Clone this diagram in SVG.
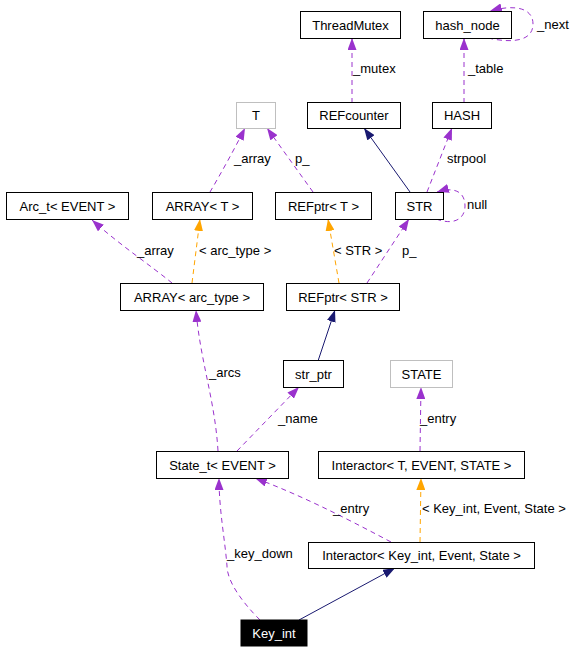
<svg xmlns="http://www.w3.org/2000/svg" width="575" height="651" viewBox="0 0 575 651">
<style>
text{font-family:"Liberation Sans",Arial,sans-serif;font-size:13px;fill:#000}
.n rect{fill:#fff;stroke:#000;stroke-width:1}
.g rect{fill:#fff;stroke:#bfbfbf;stroke-width:1}
.n text,.g text{text-anchor:middle}
.k rect{fill:#000;stroke:#000}
.k text{fill:#fff;text-anchor:middle}
.e{fill:none;stroke-width:1}
.p{stroke:#9a32cd;stroke-dasharray:5,4;marker-end:url(#ap)}
.o{stroke:#ffa500;stroke-dasharray:5,4;marker-end:url(#ao)}
.b{stroke:#191970;marker-end:url(#ab)}
</style>
<defs>
<marker id="ap" viewBox="0 0 12 9" refX="12" refY="4.5" markerWidth="12" markerHeight="9" markerUnits="userSpaceOnUse" orient="auto"><path d="M0,0L12,4.5L0,9z" fill="#9a32cd"/></marker>
<marker id="ao" viewBox="0 0 12 9" refX="12" refY="4.5" markerWidth="12" markerHeight="9" markerUnits="userSpaceOnUse" orient="auto"><path d="M0,0L12,4.5L0,9z" fill="#ffa500"/></marker>
<marker id="ab" viewBox="0 0 12 9" refX="12" refY="4.5" markerWidth="12" markerHeight="9" markerUnits="userSpaceOnUse" orient="auto"><path d="M0,0L12,4.5L0,9z" fill="#191970"/></marker>
</defs>
<rect width="575" height="651" fill="#fff"/>
<g id="edges">
<path class="e p" d="M352,103L352,38"/>
<text x="353" y="73">_mutex</text>
<path class="e p" d="M464,103L464,38"/>
<text x="468" y="73">_table</text>
<path class="e p" d="M488,38C515,44 533,40 533,24C533,8 515,4 490,11"/>
<text x="537" y="29">_next</text>
<path class="e b" d="M410,192L364,128"/>
<path class="e p" d="M427,192L452,128"/>
<text x="447" y="163">strpool</text>
<path class="e p" d="M436,219C455,226 465,218 465,206C465,193 456,186 437,192"/>
<text x="467" y="209">null</text>
<path class="e p" d="M210,192C220,175 234,150 245,128"/>
<text x="234" y="163">_array</text>
<path class="e p" d="M313,192L267,128"/>
<text x="295" y="163">p_</text>
<path class="e p" d="M172,283C150,265 120,245 92,220"/>
<text x="137" y="255">_array</text>
<path class="e o" d="M192,283L200,219"/>
<text x="199" y="255">&lt; arc_type &gt;</text>
<path class="e o" d="M339,283L328,219"/>
<text x="334" y="255">&lt; STR &gt;</text>
<path class="e p" d="M367,283L409,219"/>
<text x="402" y="255">p_</text>
<path class="e b" d="M318,361L335,310"/>
<path class="e p" d="M218,451C215,400 200,360 196,310"/>
<text x="209" y="377">_arcs</text>
<path class="e p" d="M237,451L299,387"/>
<text x="278" y="423">_name</text>
<path class="e p" d="M420,451L421,387"/>
<text x="420" y="423">_entry</text>
<path class="e o" d="M420,542L421,478"/>
<text x="422" y="513">&lt; Key_int, Event, State &gt;</text>
<path class="e p" d="M391,542C340,515 300,495 255,478"/>
<text x="333" y="513">_entry</text>
<path class="e p" d="M260,620C240,600 227,580 227,566C225,540 219,510 219,478"/>
<text x="227" y="558">_key_down</text>
<path class="e b" d="M299,620L395,568"/>
</g>
<g id="ThreadMutex" class="n"><rect x="300.5" y="11.5" width="100" height="27"/><text x="350.5" y="29.5">ThreadMutex</text></g>
<g id="hash_node" class="n"><rect x="423.5" y="11.5" width="88" height="27"/><text x="467.5" y="29.5">hash_node</text></g>
<g id="T" class="g"><rect x="236.5" y="102.5" width="39" height="26"/><text x="256" y="120">T</text></g>
<g id="REFcounter" class="n"><rect x="307.5" y="102.5" width="93" height="26"/><text x="354" y="120">REFcounter</text></g>
<g id="HASH" class="n"><rect x="432.5" y="102.5" width="59" height="26"/><text x="462" y="120">HASH</text></g>
<g id="Arc_t" class="n"><rect x="6.5" y="192.5" width="122" height="27"/><text x="67.5" y="210.5">Arc_t&lt; EVENT &gt;</text></g>
<g id="ARRAY_T" class="n"><rect x="152.5" y="192.5" width="100" height="27"/><text x="202.5" y="210.5">ARRAY&lt; T &gt;</text></g>
<g id="REFptr_T" class="n"><rect x="275.5" y="192.5" width="96" height="27"/><text x="323.5" y="210.5">REFptr&lt; T &gt;</text></g>
<g id="STR" class="n"><rect x="395.5" y="192.5" width="48" height="27"/><text x="419.5" y="210.5">STR</text></g>
<g id="ARRAY_arc_type" class="n"><rect x="120.5" y="283.5" width="143" height="27"/><text x="192" y="301.5">ARRAY&lt; arc_type &gt;</text></g>
<g id="REFptr_STR" class="n"><rect x="286.5" y="283.5" width="113" height="27"/><text x="343" y="301.5">REFptr&lt; STR &gt;</text></g>
<g id="str_ptr" class="n"><rect x="283.5" y="360.5" width="60" height="27"/><text x="313.5" y="378.5">str_ptr</text></g>
<g id="STATE" class="g"><rect x="390.5" y="360.5" width="62" height="27"/><text x="421.5" y="378.5">STATE</text></g>
<g id="State_t" class="n"><rect x="156.5" y="451.5" width="132" height="27"/><text x="222.5" y="469.5">State_t&lt; EVENT &gt;</text></g>
<g id="Interactor_T" class="n"><rect x="318.5" y="451.5" width="206" height="27"/><text x="421.5" y="469.5">Interactor&lt; T, EVENT, STATE &gt;</text></g>
<g id="Interactor_Key_int" class="n"><rect x="308.5" y="542.5" width="226" height="26"/><text x="421.5" y="560">Interactor&lt; Key_int, Event, State &gt;</text></g>
<g id="Key_int" class="k"><rect x="241" y="620" width="66" height="26"/><text x="274" y="638">Key_int</text></g>
</svg>
